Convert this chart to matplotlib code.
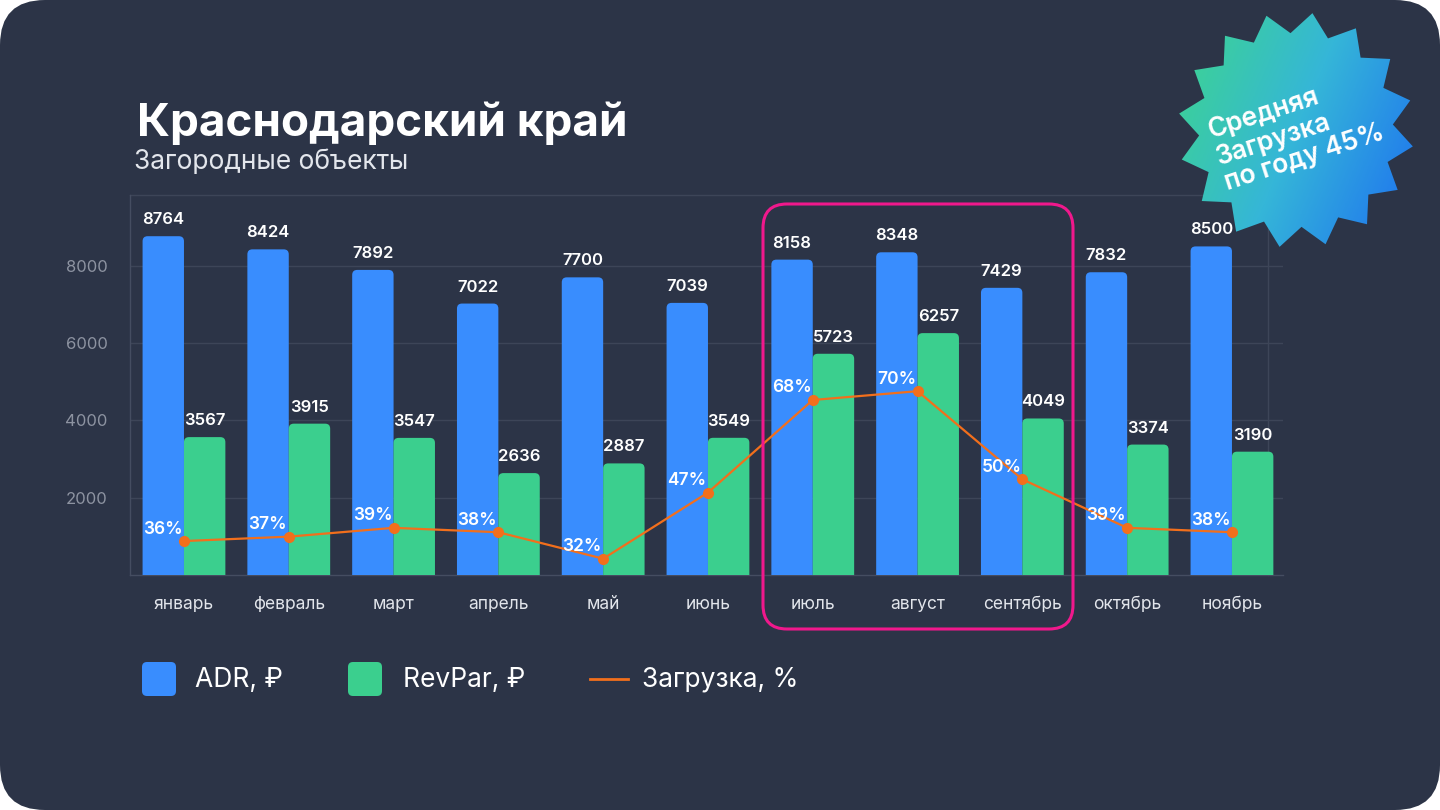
import numpy as np
import matplotlib
matplotlib.use("Agg")
import matplotlib.pyplot as plt
from matplotlib.patches import FancyBboxPatch, Polygon
from matplotlib.colors import LinearSegmentedColormap

plt.rcParams["font.family"] = ["Inter", "DejaVu Sans"]

# data
months = ["январь", "февраль", "март", "апрель", "май", "июнь",
          "июль", "август", "сентябрь", "октябрь", "ноябрь"]
adr = [8764, 8424, 7892, 7022, 7700, 7039, 8158, 8348, 7429, 7832, 8500]
revpar = [3567, 3915, 3547, 2636, 2887, 3549, 5723, 6257, 4049, 3374, 3190]
load = [36, 37, 39, 38, 32, 47, 68, 70, 50, 39, 38]
yticks = [2000, 4000, 6000, 8000]

BG = "#2c3447"
BLUE = "#398dfe"
GREEN = "#3bcf8e"
ORANGE = "#f26f1c"
GRID = "#3d4558"
W, H = 1440, 810

fig = plt.figure(figsize=(14.4, 8.1), dpi=100, facecolor="white")

# background card with rounded corners
bg = fig.add_axes([0, 0, 1, 1], zorder=-5)
bg.set_xlim(0, W)
bg.set_ylim(H, 0)
bg.axis("off")
bg.add_patch(FancyBboxPatch((0, 0), W, H, boxstyle="round,pad=0,rounding_size=45",
                            fc=BG, ec="none"))

px0, px1, py0, py1 = 130, 1283, 195, 575
# faint frame lines behind the chart
bg.plot([px0, 1268], [py0, py0], color=GRID, lw=1)
bg.plot([1268, 1268], [py0, py1], color=GRID, lw=1)

# main chart
ax = fig.add_axes([px0 / W, (H - py1) / H, (px1 - px0) / W, (py1 - py0) / H])
ax.set_facecolor("none")
x = np.arange(len(months))
ax.set_xlim(-0.515, 10.487)
ax.set_ylim(0, 9830)

bw = 0.395
ypp = 9830 / (py1 - py0)       # data units per pixel in y
xpp = 11.0 / (px1 - px0)       # data units per pixel in x
aspect = ypp / xpp
r = 5 * xpp
for xi, a, rv in zip(x, adr, revpar):
    for x0, v, c in [(xi - bw, a, BLUE), (xi, rv, GREEN)]:
        ax.add_patch(FancyBboxPatch((x0, -600), bw, v + 600,
                                    boxstyle=f"round,pad=0,rounding_size={r}",
                                    mutation_aspect=aspect, fc=c, ec="none", zorder=3))
        ax.annotate(str(v), (x0 + bw / 2, v), xytext=(0, 9), textcoords="offset pixels",
                    ha="center", va="bottom", color="white", fontsize=12,
                    fontweight="semibold", zorder=5, annotation_clip=False)

ax.set_yticks(yticks)
ax.set_yticklabels([str(t) for t in yticks])
ax.set_xticks(x)
ax.set_xticklabels(months)
ax.tick_params(axis="x", length=0, pad=15, labelsize=12.5, labelcolor="#e2e5eb")
ax.tick_params(axis="y", length=0, pad=16, labelsize=12, labelcolor="#8d93a1")
ax.grid(axis="y", color=GRID, lw=1, zorder=0)
ax.set_axisbelow(True)
for s in ["top", "right"]:
    ax.spines[s].set_visible(False)
for s in ["left", "bottom"]:
    ax.spines[s].set_color("#454d61")
    ax.spines[s].set_linewidth(1)

# load line on a second scale
ax2 = ax.twinx()
ax2.set_ylim(28.3, 114.5)
ax2.axis("off")
ax2.plot(x, load, color=ORANGE, lw=1.6, marker="o", ms=7, zorder=6)
for xi, p in zip(x, load):
    ax2.annotate(f"{p}%", (xi, p), xytext=(-21, 12), textcoords="offset pixels",
                 ha="center", va="center", color="white", fontsize=12.5,
                 fontweight="semibold", zorder=7)

# overlay for title, legend, highlight and badge
ov = fig.add_axes([0, 0, 1, 1], zorder=10)
ov.set_xlim(0, W)
ov.set_ylim(H, 0)
ov.axis("off")
ov.set_facecolor("none")

ov.text(137, 136, "Краснодарский край", fontsize=33, fontweight="bold",
        color="white", va="baseline")
ov.text(134, 169, "Загородные объекты", fontsize=19, color="#e3e6ec", va="baseline")

# highlight July-September
ov.add_patch(FancyBboxPatch((763, 204), 310, 425, boxstyle="round,pad=0,rounding_size=24",
                            fc="none", ec="#f0188c", lw=2.2))

# legend
ov.add_patch(FancyBboxPatch((142, 662), 34, 34, boxstyle="round,pad=0,rounding_size=5",
                            fc=BLUE, ec="none"))
ov.text(195, 680, "ADR, ₽", fontsize=19, color="white", va="center")
ov.add_patch(FancyBboxPatch((348, 662), 34, 34, boxstyle="round,pad=0,rounding_size=5",
                            fc=GREEN, ec="none"))
ov.text(403, 680, "RevPar, ₽", fontsize=19, color="white", va="center")
ov.plot([590, 628], [679, 679], color=ORANGE, lw=2)
ov.text(642, 680, "Загрузка, %", fontsize=19, color="white", va="center")

# starburst badge
cx, cy, n = 1296, 130, 16
ang = np.linspace(0, 2 * np.pi, 2 * n, endpoint=False) - np.pi / 2 + np.radians(8)
rad = np.where(np.arange(2 * n) % 2 == 0, 118, 97)
pts = np.column_stack([cx + rad * np.cos(ang), cy + rad * np.sin(ang)])
star = Polygon(pts, closed=True, fc="none", ec="none", joinstyle="round")
ov.add_patch(star)
gx, gy = np.meshgrid(np.linspace(0, 1, 200), np.linspace(0, 1, 200))
grad = 0.7 * gx + 0.3 * gy
cmap = LinearSegmentedColormap.from_list("badge", ["#3ed78a", "#35b6d8", "#1c6df2"])
im = ov.imshow(grad, cmap=cmap, extent=(cx - 120, cx + 120, cy + 120, cy - 120),
               aspect="auto", zorder=2)
im.set_clip_path(star)
ov.set_xlim(0, W)
ov.set_ylim(H, 0)
ov.text(cx, cy + 2, "Средняя\nЗагрузка\nпо году 45%", fontsize=19, fontweight="semibold",
        color="white", rotation=18, rotation_mode="anchor", ha="center", va="center",
        multialignment="left", linespacing=1.05, zorder=3)

fig.savefig("out.png", dpi=100, facecolor="white")
